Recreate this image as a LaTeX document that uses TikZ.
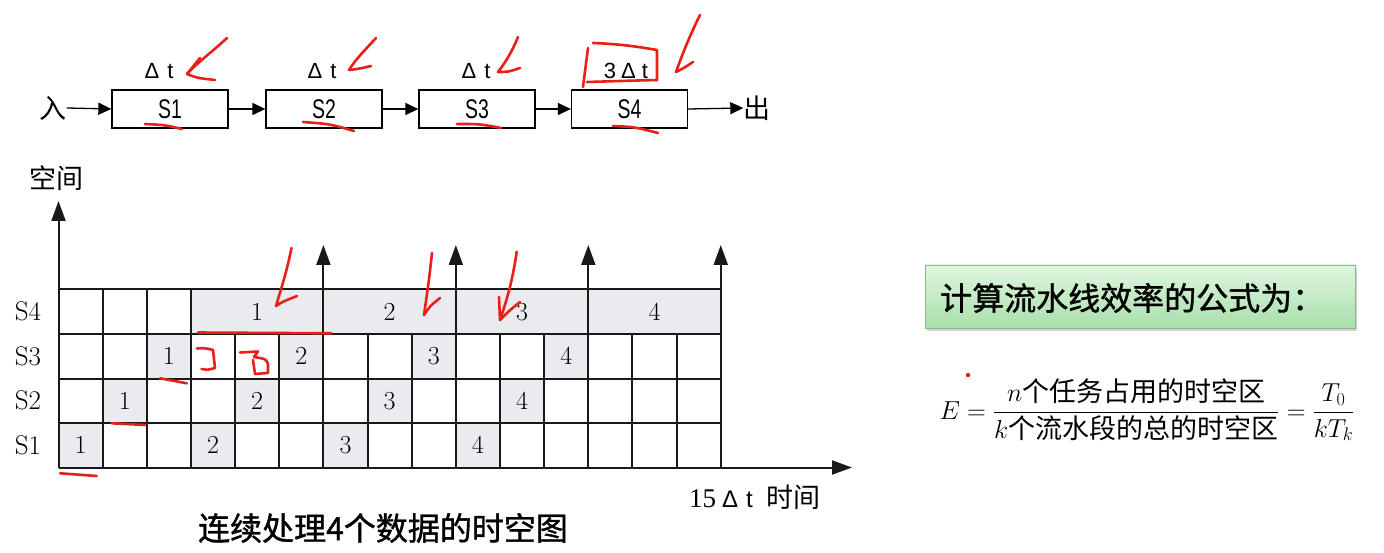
\documentclass[tikz,border=0pt]{standalone}
\usepackage{fix-cm}
\usepackage{amsmath}
\usepackage{fontspec}
\newfontfamily\cjk{Noto Sans CJK SC}
\newfontfamily\cjkb[FakeBold=1.2]{Noto Sans CJK SC}
\newfontfamily\nsans[FakeStretch=0.72]{Liberation Sans}
\newfontfamily\lsans{Liberation Sans}
\newfontfamily\lserif{Liberation Serif}
\usetikzlibrary{arrows.meta,shadows}
\definecolor{cellgray}{HTML}{E9EBEF}
\definecolor{penred}{HTML}{E8201A}
\definecolor{gtop}{HTML}{E0F6E0}
\definecolor{gbot}{HTML}{A8DFAB}
\definecolor{gborder}{HTML}{8DB98F}
\tikzset{
  gridline/.style={line width=2pt, black!90},
  axisarrow/.style={line width=2pt, black!90, -{Triangle[length=20pt,width=14pt]}},
  stagebox/.style={draw, line width=1.3pt, minimum width=116pt, minimum height=38pt, inner sep=0pt, font=\nsans\fontsize{27}{27}\selectfont},
  parrow/.style={line width=1.3pt, -{Triangle[length=13pt,width=12pt]}},
  dtlabel/.style={inner sep=0pt, font=\lsans\fontsize{22}{22}\selectfont},
  cellnum/.style={inner sep=0pt, font=\fontsize{26}{26}\selectfont},
  rowlabel/.style={inner sep=0pt, font=\fontsize{27}{27}\selectfont},
  cjklabel/.style={inner sep=0pt, font=\cjk\fontsize{27}{27}\selectfont},
  redpen/.style={draw=penred, line width=2.6pt, line cap=round, line join=round},
}
\begin{document}
\begin{tikzpicture}[x=1pt,y=-1pt]
\useasboundingbox (0,0) rectangle (1384,553);
\fill[white] (0,0) rectangle (1384,553);

% ---------- pipeline ----------
\node[cjklabel] (in) at (53,108) {入};
\node[stagebox] (b1) at (170,109) {S1};
\node[stagebox] (b2) at (324,109) {S2};
\node[stagebox] (b3) at (477,109) {S3};
\node[stagebox] (b4) at (629.5,109) {S4};
\node[cjklabel] (out) at (757,108) {出};
\draw[parrow] (in.east) -- (b1.west);
\draw[parrow] (b1.east) -- (b2.west);
\draw[parrow] (b2.east) -- (b3.west);
\draw[parrow] (b3.east) -- (b4.west);
\draw[parrow] (b4.east) -- (out.west);
\node[dtlabel] (d1) at (159,71) {Δ\hspace{8pt}t};
\node[dtlabel] (d2) at (322,71) {Δ\hspace{8pt}t};
\node[dtlabel] (d3) at (476,71) {Δ\hspace{8pt}t};
\node[dtlabel] (d4) at (626,71) {3\hspace{5pt}Δ\hspace{6pt}t};

% ---------- grid ----------
\def\xa{58.5}\def\cw{44.15}\def\yb{467.5}\def\ch{44.5}
\foreach \c/\s in {0/1,3/1,6/1,9/1, 1/2,4/2,7/2,10/2, 2/3,5/3,8/3,11/3}{
  \fill[cellgray] ({\xa+\c*\cw},{\yb-\s*\ch}) rectangle ({\xa+(\c+1)*\cw},{\yb-(\s-1)*\ch});
}
\foreach \c in {3,6,9,12}{
  \fill[cellgray] ({\xa+\c*\cw},{\yb-4*\ch}) rectangle ({\xa+(\c+3)*\cw},{\yb-3*\ch});
}
\foreach \r in {1,2,3,4}{
  \draw[gridline] (\xa,{\yb-\r*\ch}) -- ({\xa+15*\cw},{\yb-\r*\ch});
}
\foreach \i in {1,...,15}{
  \draw[gridline] ({\xa+\i*\cw},\yb) -- ({\xa+\i*\cw},{\yb-3*\ch});
}
\foreach \i in {1,2,3}{
  \draw[gridline] ({\xa+\i*\cw},{\yb-3*\ch}) -- ({\xa+\i*\cw},{\yb-4*\ch});
}
\coordinate (O) at (\xa,\yb);
\coordinate (ytip) at (\xa,201);
\coordinate (xtip) at (852,\yb);
\draw[axisarrow] (O) -- (ytip);
\draw[axisarrow] (O) -- (xtip);
\foreach \i/\nm in {6/a,9/b,12/c,15/d}{
  \coordinate (bot\nm) at ({\xa+\i*\cw},\yb);
  \coordinate (top\nm) at ({\xa+\i*\cw},245);
  \draw[axisarrow] (bot\nm) -- (top\nm);
}
\foreach \c/\s/\n in {0/1/1,3/1/2,6/1/3,9/1/4, 1/2/1,4/2/2,7/2/3,10/2/4, 2/3/1,5/3/2,8/3/3,11/3/4}{
  \node[cellnum] (n\s-\c) at ({\xa+(\c+0.5)*\cw},{\yb-(\s-0.5)*\ch}) {\n};
}
\foreach \c/\n in {3/1,6/2,9/3,12/4}{
  \node[cellnum] (m\n) at ({\xa+(\c+1.5)*\cw},{\yb-3.5*\ch}) {\n};
}
\node[rowlabel] (r4) at (28,311.5) {S4};
\node[rowlabel] (r3) at (28,356) {S3};
\node[rowlabel] (r2) at (28,400.5) {S2};
\node[rowlabel] (r1) at (28,445) {S1};
\node[cjklabel] (space) at (56,178) {空间};
\node[inner sep=0pt, anchor=west] (time) at (689,497) {\lserif\fontsize{27}{27}\selectfont 15\hspace{6pt}{\lsans\fontsize{24}{24}\selectfont Δ\hspace{8pt}t}\hspace{14pt}{\cjk 时间}};
\node[inner sep=0pt] (caption) at (383,528) {\cjkb\fontsize{32}{32}\selectfont 连续处理4个数据的时空图};

% ---------- right side ----------
\node[draw=gborder, line width=0.8pt, top color=gtop, bottom color=gbot, minimum width=430pt, minimum height=63pt,
      drop shadow={shadow xshift=2pt, shadow yshift=-3pt, opacity=0.35}] (title) at (1140,296.5) {};
\node[inner sep=0pt, anchor=west] (titletext) at (940,298) {\cjkb\fontsize{32}{32}\selectfont 计算流水线效率的公式为：};
\node[inner sep=0pt] (formula) at (1147,410) {\fontsize{26}{30}\selectfont
  $E=\dfrac{n\text{\cjk\fontsize{27}{30}\selectfont 个任务占用的时空区}}{k\text{\cjk\fontsize{27}{30}\selectfont 个流水段的总的时空区}}=\dfrac{T_0}{kT_k}$};
\fill[penred] (968,375) circle (2.2pt);

% ---------- red annotations ----------
\draw[redpen] (227,38) .. controls (212,52) and (198,62) .. (187,74);
\draw[redpen] (200,58) -- (187,74) .. controls (197,78) .. (215,80);
\draw[redpen] (145,124) .. controls (165,125) .. (182,129);
\draw[redpen] (376,38) .. controls (365,50) and (355,60) .. (349,70);
\draw[redpen] (349,70) .. controls (358,69) .. (371,66);
\draw[redpen] (303,122) .. controls (330,124) .. (354,131);
\draw[redpen] (518,37) .. controls (512,52) and (505,63) .. (498,72);
\draw[redpen] (498,72) .. controls (508,72) .. (520,68);
\draw[redpen] (457,124) .. controls (480,124) .. (501,128);
\draw[redpen] (700,15) .. controls (690,35) and (682,55) .. (676,72);
\draw[redpen] (676,72) .. controls (684,68) .. (693,62);
\draw[redpen] (588,48) -- (583,87);
\draw[redpen] (593,43) .. controls (620,44) and (640,47) .. (657,50) -- (657,80);
\draw[redpen] (587,82) .. controls (620,81) .. (657,80);
\draw[redpen] (613,126) .. controls (635,127) .. (658,133);
\draw[redpen] (291.5,248) .. controls (286,275) and (280,292) .. (276,306) .. controls (282,302) .. (297,296);
\draw[redpen] (198,332.5) -- (331.5,333.3);
\draw[redpen] (197,348.5) .. controls (205,348) .. (213,350) -- (215,368) .. controls (208,370) .. (201.5,369);
\draw[redpen] (240,352.5) -- (258,351.5) -- (254,357) .. controls (266,359) .. (268,364) -- (268,373) -- (255,374) -- (253,360);
\draw[redpen] (160,378.3) -- (186.7,383.3);
\draw[redpen] (111.7,423.3) -- (145,425);
\draw[redpen] (60,473.3) -- (96.7,476);
\draw[redpen] (432,253) .. controls (429,280) .. (424,315);
\draw[redpen] (424,315) .. controls (430,306) .. (440,298);
\draw[redpen] (516.7,251.7) .. controls (512,285) and (505,305) .. (500,320) -- (499,297);
\draw[redpen] (500,320) .. controls (510,310) .. (520,302);
\end{tikzpicture}
\end{document}
